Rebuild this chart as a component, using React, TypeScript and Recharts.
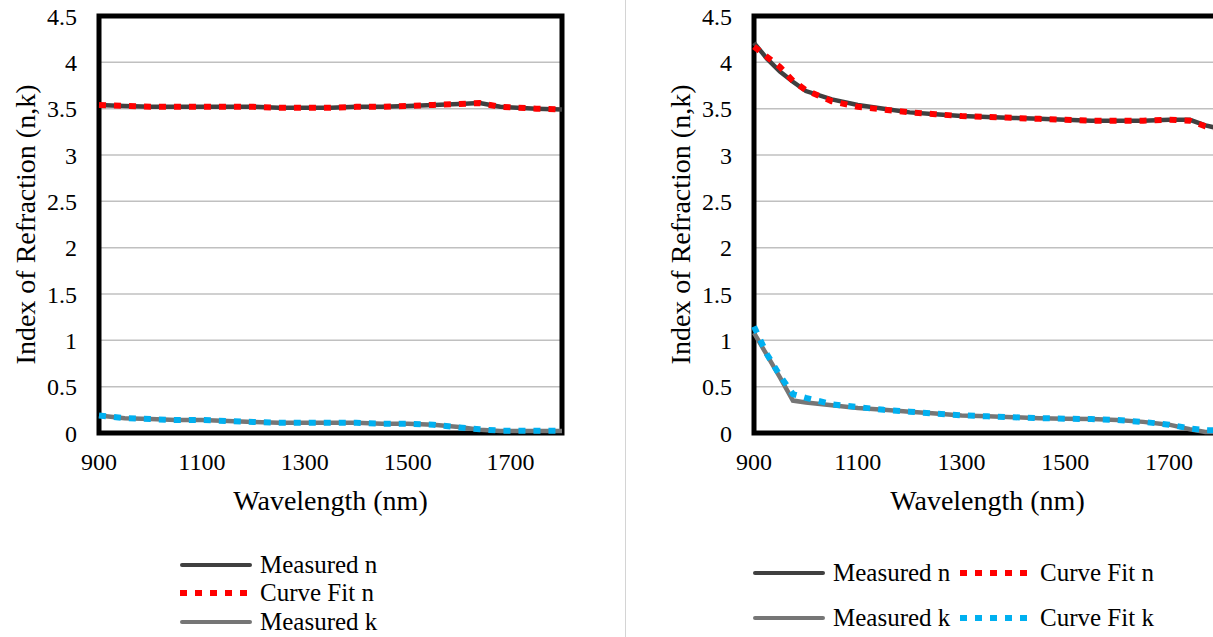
import React from "react";
import { LineChart, Line, XAxis, YAxis, CartesianGrid, ReferenceArea, Label } from "recharts";

const FONT = "'Liberation Serif', 'Times New Roman', serif";

// left panel
const leftWavelength = [900, 950, 1000, 1050, 1100, 1150, 1200, 1250, 1300, 1350, 1400, 1450, 1500, 1550, 1600, 1640, 1680, 1750, 1800];
const leftMeasuredN = [3.54, 3.53, 3.52, 3.52, 3.52, 3.52, 3.52, 3.51, 3.51, 3.51, 3.52, 3.52, 3.53, 3.54, 3.55, 3.56, 3.52, 3.5, 3.49];
const leftFitN = [3.54, 3.53, 3.52, 3.52, 3.52, 3.52, 3.52, 3.51, 3.51, 3.51, 3.52, 3.52, 3.53, 3.54, 3.55, 3.56, 3.52, 3.5, 3.49];
const leftMeasuredK = [0.19, 0.16, 0.15, 0.14, 0.14, 0.13, 0.12, 0.11, 0.11, 0.11, 0.11, 0.1, 0.1, 0.09, 0.065, 0.035, 0.022, 0.022, 0.022];
const leftFitK = [0.19, 0.16, 0.15, 0.14, 0.14, 0.13, 0.12, 0.11, 0.11, 0.11, 0.11, 0.1, 0.1, 0.09, 0.06, 0.04, 0.025, 0.025, 0.025];

// right panel
const rightWavelength = [900, 925, 950, 975, 1000, 1050, 1100, 1150, 1200, 1250, 1300, 1350, 1400, 1450, 1500, 1550, 1600, 1650, 1700, 1740, 1770, 1800];
const rightMeasuredN = [4.21, 4.04, 3.9, 3.79, 3.69, 3.6, 3.54, 3.5, 3.46, 3.44, 3.42, 3.41, 3.4, 3.39, 3.38, 3.37, 3.37, 3.37, 3.38, 3.38, 3.32, 3.28];
const rightFitN = [4.17, 4.06, 3.95, 3.8, 3.7, 3.58, 3.52, 3.49, 3.46, 3.44, 3.42, 3.41, 3.4, 3.39, 3.38, 3.37, 3.37, 3.37, 3.38, 3.37, 3.31, 3.28];
const rightMeasuredK = [1.08, 0.84, 0.6, 0.35, 0.33, 0.3, 0.27, 0.25, 0.23, 0.21, 0.19, 0.18, 0.17, 0.16, 0.155, 0.15, 0.14, 0.12, 0.09, 0.04, 0.01, 0.01];
const rightFitK = [1.15, 0.85, 0.62, 0.42, 0.38, 0.31, 0.28, 0.25, 0.23, 0.21, 0.19, 0.18, 0.17, 0.16, 0.155, 0.15, 0.14, 0.12, 0.09, 0.05, 0.03, 0.03];

const xTicks = [900, 1100, 1300, 1500, 1700];
const yTicks = [0, 0.5, 1, 1.5, 2, 2.5, 3, 3.5, 4, 4.5];

const seriesNames = ["Measured n", "Curve Fit n", "Measured k", "Curve Fit k"];

const C_MN = "#404040";
const C_FN = "#ff0000";
const C_MK = "#767676";
const C_FK = "#00b0f0";

const rows = (wl: number[], mn: number[], fn: number[], mk: number[], fk: number[]) =>
  wl.map((w, i) => ({ wl: w, mn: mn[i], fn: fn[i], mk: mk[i], fk: fk[i] }));

const YTitle = (props: any) => {
  const vb = props.viewBox;
  const cx = vb.x + 25;
  const cy = vb.y + vb.height / 2;
  return (
    <text x={cx} y={cy} transform={`rotate(-90 ${cx} ${cy})`} textAnchor="middle" dominantBaseline="central"
      fontSize={28} fill="#000" fontFamily={FONT}>
      Index of Refraction (n,k)
    </text>
  );
};

const XTitle = (props: any) => {
  const vb = props.viewBox;
  return (
    <text x={vb.x + vb.width / 2} y={vb.y + 77} textAnchor="middle" fontSize={28} fill="#000" fontFamily={FONT}>
      Wavelength (nm)
    </text>
  );
};

const Panel = (props: { data: any[]; left: number; right: number }) => {
  const tick = { fontSize: 24, fill: "#000", fontFamily: FONT };
  return (
    <div style={{ position: "absolute", left: props.left, top: 0 }}>
      <LineChart width={600} height={637} data={props.data}
        margin={{ top: 16, right: props.right, left: 0, bottom: 104 }}>
        <CartesianGrid vertical={false} stroke="#c0c0c0" strokeWidth={1.5} />
        <XAxis dataKey="wl" type="number" domain={[900, 1800]} ticks={xTicks} interval={0}
          axisLine={false} tickLine={false} tickSize={0} tickMargin={20} tick={tick} height={100}>
          <Label content={XTitle} />
        </XAxis>
        <YAxis type="number" domain={[0, 4.5]} ticks={yTicks} interval={0} width={99}
          axisLine={false} tickLine={false} tickSize={0} tickMargin={22} tick={tick}>
          <Label content={YTitle} />
        </YAxis>
        <ReferenceArea x1={900} x2={1800} y1={0} y2={4.5} fill="none" stroke="#000" strokeWidth={5} />
        <Line dataKey="mn" name={seriesNames[0]} stroke={C_MN} strokeWidth={4.5} dot={false} isAnimationActive={false} />
        <Line dataKey="fn" name={seriesNames[1]} stroke={C_FN} strokeWidth={6} strokeDasharray="7 8" dot={false} isAnimationActive={false} />
        <Line dataKey="mk" name={seriesNames[2]} stroke={C_MK} strokeWidth={4.5} dot={false} isAnimationActive={false} />
        <Line dataKey="fk" name={seriesNames[3]} stroke={C_FK} strokeWidth={6} strokeDasharray="7 8" dot={false} isAnimationActive={false} />
      </LineChart>
    </div>
  );
};

const Swatch = (props: { color: string; dashed?: boolean }) => (
  <svg width={72} height={10} style={{ display: "block" }}>
    {props.dashed ? (
      <line x1={0} y1={5} x2={72} y2={5} stroke={props.color} strokeWidth={6} strokeDasharray="7 8" />
    ) : (
      <line x1={2} y1={5} x2={70} y2={5} stroke={props.color} strokeWidth={4} strokeLinecap="round" />
    )}
  </svg>
);

const LegendItem = (props: { x: number; y: number; color: string; dashed?: boolean; label: string }) => (
  <div style={{ position: "absolute", left: props.x, top: props.y - 15, height: 30, display: "flex", alignItems: "center",
    fontFamily: FONT, fontSize: 25, color: "#000", whiteSpace: "nowrap" }}>
    <Swatch color={props.color} dashed={props.dashed} />
    <span style={{ marginLeft: 8 }}>{props.label}</span>
  </div>
);

export default function App() {
  const leftData = rows(leftWavelength, leftMeasuredN, leftFitN, leftMeasuredK, leftFitK);
  const rightData = rows(rightWavelength, rightMeasuredN, rightFitN, rightMeasuredK, rightFitK);
  return (
    <div style={{ position: "absolute", left: 0, top: 0, width: 1213, height: 637, overflow: "hidden", background: "#fff" }}>
      <Panel data={leftData} left={0} right={38} />
      <Panel data={rightData} left={655} right={34} />
      <div style={{ position: "absolute", left: 625, top: 0, width: 1, height: 637, background: "#d4d4d4" }} />
      <LegendItem x={180} y={565} color={C_MN} label={seriesNames[0]} />
      <LegendItem x={180} y={593} color={C_FN} dashed label={seriesNames[1]} />
      <LegendItem x={180} y={622} color={C_MK} label={seriesNames[2]} />
      <LegendItem x={753} y={573} color={C_MN} label={seriesNames[0]} />
      <LegendItem x={960} y={573} color={C_FN} dashed label={seriesNames[1]} />
      <LegendItem x={753} y={618} color={C_MK} label={seriesNames[2]} />
      <LegendItem x={960} y={618} color={C_FK} dashed label={seriesNames[3]} />
    </div>
  );
}
